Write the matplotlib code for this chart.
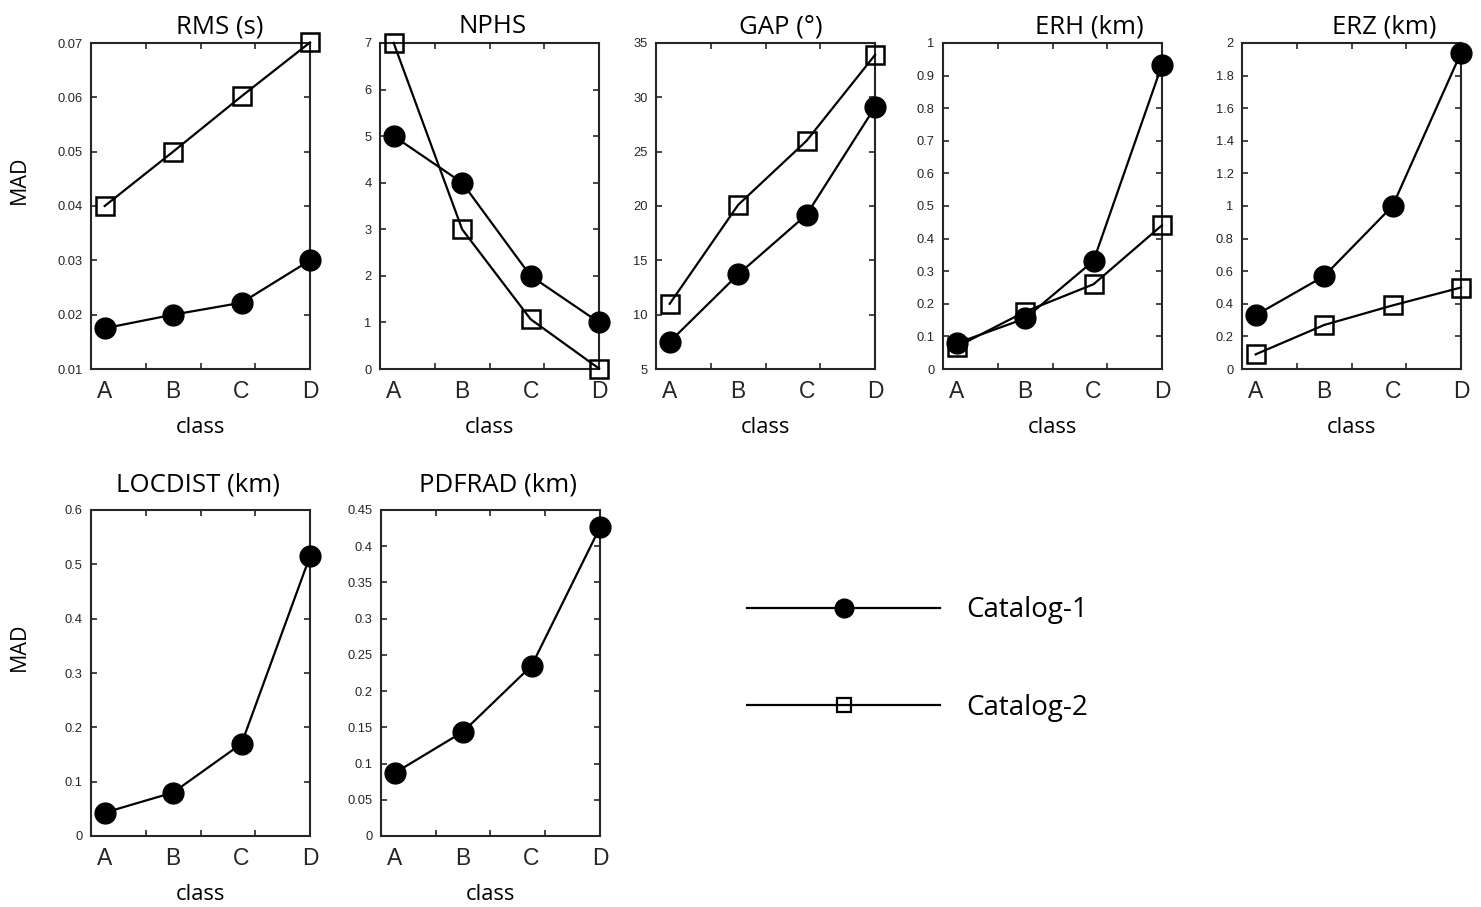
import numpy as np
import matplotlib
matplotlib.use("Agg")
import matplotlib.pyplot as plt
from matplotlib.lines import Line2D
from matplotlib.ticker import FuncFormatter

# Donnees (MAD par classe)
classes = ["A", "B", "C", "D"]
class_pos = [1, 2, 3, 4]

rms_cat1 = [0.0175, 0.0200, 0.0222, 0.0300]
rms_cat2 = [0.0400, 0.0500, 0.0602, 0.0701]
nphs_cat1 = [5.0, 4.0, 2.0, 1.0]
nphs_cat2 = [7.0, 3.0, 1.07, 0.01]
gap_cat1 = [7.5, 13.7, 19.2, 29.1]
gap_cat2 = [11.0, 20.1, 26.0, 33.9]
erh_cat1 = [0.079, 0.155, 0.332, 0.933]
erh_cat2 = [0.068, 0.176, 0.260, 0.441]
erz_cat1 = [0.33, 0.57, 1.0, 1.94]
erz_cat2 = [0.09, 0.27, 0.39, 0.50]
locdist_cat1 = [0.043, 0.080, 0.170, 0.515]
pdfrad_cat1 = [0.087, 0.144, 0.235, 0.426]

titles = ["RMS (s)", "NPHS", "GAP (°)", "ERH (km)", "ERZ (km)",
          "LOCDIST (km)", "PDFRAD (km)"]
series1 = [rms_cat1, nphs_cat1, gap_cat1, erh_cat1, erz_cat1,
           locdist_cat1, pdfrad_cat1]
series2 = [rms_cat2, nphs_cat2, gap_cat2, erh_cat2, erz_cat2, None, None]
yranges = [(0.01, 0.07, 0.01), (0, 7, 1), (5, 35, 5), (0, 1, 0.1),
           (0, 2, 0.2), (0, 0.6, 0.1), (0, 0.45, 0.05)]
series_labels = ["Catalog-1", "Catalog-2"]

# mise en page (pixels de la figure d'origine)
W, H = 1481, 907
lefts = [91, 380, 656, 943, 1242, 91, 381]
tops = [43, 43, 43, 43, 43, 510, 510]
title_x = [0.59, 0.515, 0.57, 0.668, 0.65, 0.49, 0.535]
ax_w, ax_h = 219, 326

plt.rcParams['font.family'] = ['Open Sans', 'DejaVu Sans']
dark = '#262626'

fig = plt.figure(figsize=(W / 100, H / 100), dpi=100, facecolor='w')

fmt = FuncFormatter(lambda v, p: "{:g}".format(round(v, 4)))

for i, title in enumerate(titles):
    rect = [lefts[i] / W, 1 - (tops[i] + ax_h) / H, ax_w / W, ax_h / H]
    ax = fig.add_axes(rect)
    if series2[i] is not None:
        ax.plot(class_pos, series2[i], color='k', lw=1.6, marker='s',
                ms=13, mfc='none', mec='k', mew=1.8, zorder=3)
    ax.plot(class_pos, series1[i], color='k', lw=1.6, marker='o',
            ms=15, mfc='k', mec='k', zorder=4)
    for ln in ax.lines:
        ln.set_clip_on(False)

    y0, y1, step = yranges[i]
    ax.set_ylim(y0, y1)
    ax.set_yticks(np.arange(y0, y1 + step / 2, step))
    ax.yaxis.set_major_formatter(fmt)
    ax.set_xlim(0.8, 4)
    ax.xaxis.remove_overlapping_locs = False
    ax.set_xticks(np.linspace(0.8, 4, 5))
    ax.set_xticklabels([])
    ax.set_xticks(class_pos, labels=classes, minor=True)

    ax.tick_params(which='major', direction='in', length=4, width=1.2,
                   top=True, right=True, color=dark, labelcolor=dark,
                   labelsize=9.3, pad=6)
    ax.tick_params(which='minor', length=0, pad=8, labelsize=16.5,
                   labelcolor=dark)
    for lab in ax.get_yticklabels() + ax.get_xticklabels(minor=True):
        lab.set_fontfamily('Liberation Sans')
    for sp in ax.spines.values():
        sp.set_linewidth(1.5)
        sp.set_color(dark)

    pad_t = 7 if i < 5 else 13
    ax.set_title(title, fontsize=18.5, x=title_x[i], pad=pad_t)
    ax.set_xlabel("class", fontsize=15.8, labelpad=10)
    if lefts[i] < 100:
        ax.set_ylabel("MAD", fontsize=15.5)
        ax.yaxis.set_label_coords(-0.28, 0.58)

handles = [Line2D([], [], color='k', lw=1.6, marker='o', ms=13.5, mfc='k'),
           Line2D([], [], color='k', lw=1.6, marker='s', ms=10.5,
                  mfc='none', mew=1.6)]
fig.legend(handles, series_labels, loc='center left',
           bbox_to_anchor=(747 / W, 1 - 659 / H), frameon=False,
           fontsize=20, handlelength=6.95, handletextpad=0.95,
           labelspacing=2.5, borderpad=0, borderaxespad=0)

fig.savefig('out.png', dpi=100)
